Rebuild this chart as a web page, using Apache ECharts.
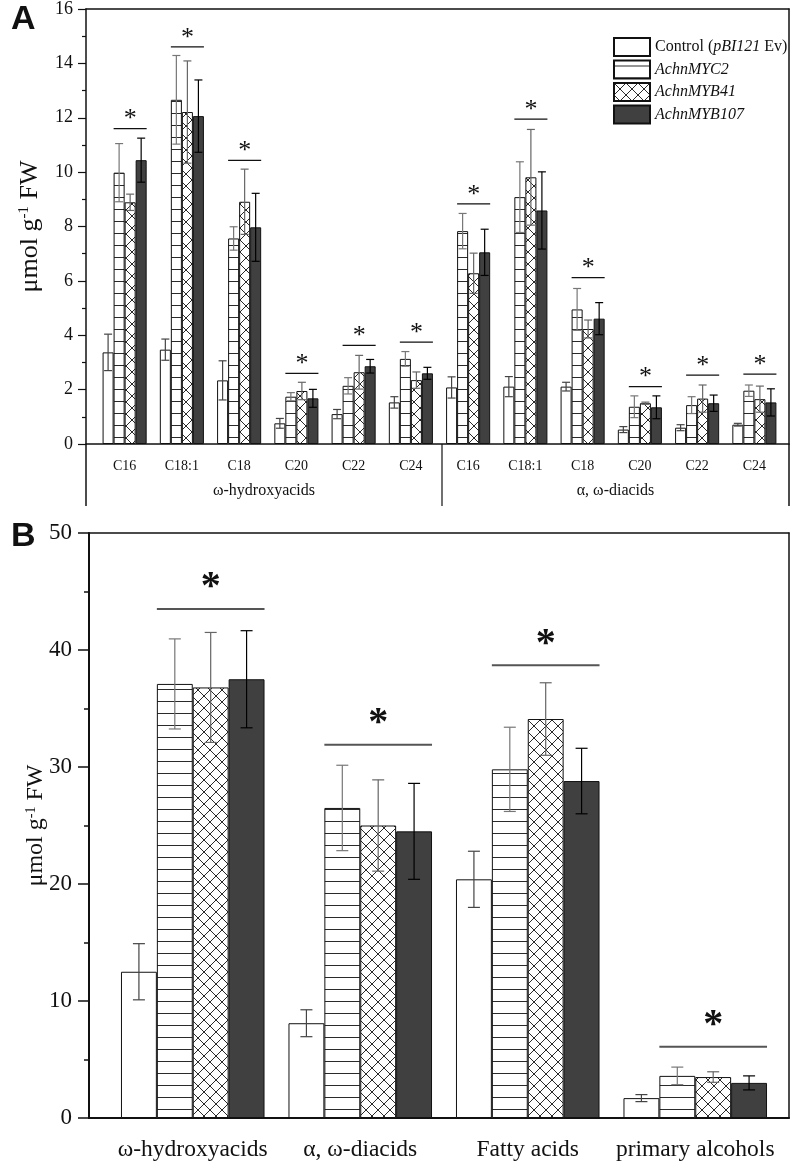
<!DOCTYPE html>
<html><head><meta charset="utf-8">
<script src="https://cdn.jsdelivr.net/npm/echarts@6/dist/echarts.min.js"></script>
<style>html,body{margin:0;padding:0;background:#fff}#c{width:797px;height:1173px}</style>
</head><body><div id="c"></div>
<script>
// ---------- data ----------
const seriesNames = ['Control (pBI121 Ev)', 'AchnMYC2', 'AchnMYB41', 'AchnMYB107'];

// Panel A
const aCategories = ['C16','C18:1','C18','C20','C22','C24','C16','C18:1','C18','C20','C22','C24'];
const aGroups = ['ω-hydroxyacids', 'α, ω-diacids'];
const aControl    = [3.37, 3.47, 2.34, 0.76, 1.10, 1.53,  2.08, 2.11, 2.11, 0.53, 0.60, 0.71];
const aControlErr = [0.67, 0.39, 0.72, 0.18, 0.17, 0.21,  0.39, 0.37, 0.16, 0.11, 0.11, 0.05];
const aMYC2       = [9.98, 12.66, 7.56, 1.74, 2.14, 3.13, 7.83, 9.08, 4.95, 1.37, 1.43, 1.96];
const aMYC2Err    = [1.07, 1.63, 0.43, 0.15, 0.30, 0.27,  0.65, 1.30, 0.77, 0.40, 0.31, 0.21];
const aMYB41      = [8.89, 12.21, 8.91, 1.95, 2.64, 2.35, 6.28, 9.81, 4.23, 1.50, 1.67, 1.65];
const aMYB41Err   = [0.30, 1.88, 1.20, 0.32, 0.62, 0.30,  0.74, 1.76, 0.33, 0.04, 0.50, 0.48];
const aMYB107     = [10.44, 12.06, 7.97, 1.68, 2.86, 2.60, 7.05, 8.59, 4.61, 1.35, 1.50, 1.53];
const aMYB107Err  = [0.81, 1.33, 1.25, 0.33, 0.25, 0.22,  0.85, 1.42, 0.59, 0.42, 0.30, 0.50];
const aSigLine    = [11.6, 14.61, 10.43, 2.6, 3.63, 3.75, 8.83, 11.95, 6.12, 2.11, 2.53, 2.57];
const aYMin = 0, aYMax = 16, aYStep = 2;

// Panel B
const bCategories = ['ω-hydroxyacids', 'α, ω-diacids', 'Fatty acids', 'primary alcohols'];
const bControl    = [12.5, 8.1, 20.4, 1.7];
const bControlErr = [2.4, 1.15, 2.4, 0.3];
const bMYC2       = [37.1, 26.5, 29.8, 3.6];
const bMYC2Err    = [3.85, 3.65, 3.6, 0.75];
const bMYB41      = [36.8, 25.0, 34.1, 3.5];
const bMYB41Err   = [4.7, 3.9, 3.1, 0.45];
const bMYB107     = [37.5, 24.5, 28.8, 3.0];
const bMYB107Err  = [4.15, 4.1, 2.8, 0.6];
const bSigLine    = [43.5, 31.9, 38.7, 6.1];
const bYMin = 0, bYMax = 50, bYStep = 10;

// ---------- styles ----------
const SERIF = '"Liberation Serif", "Times New Roman", serif';
const INK = '#111';

function tile(draw){
  const c = document.createElement('canvas'); c.width = 12; c.height = 12;
  const g = c.getContext('2d'); g.fillStyle = '#fff'; g.fillRect(0,0,12,12);
  g.strokeStyle = '#2a2a2a'; g.lineWidth = 1; draw(g); return c;
}
const horizTile = tile(g => { g.beginPath(); g.moveTo(0, 5.5); g.lineTo(12, 5.5); g.stroke(); });
const crossTile = tile(g => { g.beginPath(); g.moveTo(-1,-1); g.lineTo(13,13); g.moveTo(13,-1); g.lineTo(-1,13); g.stroke(); });
const fills = ['#ffffff', {image: horizTile, repeat: 'repeat'}, {image: crossTile, repeat: 'repeat'}, '#404040'];
const errColors = ['#444', '#777', '#666', '#000'];

const aGap = 0.23, bGap = 0.143;

function errRender(gi, gapFrac, capHalf, color){
  return function(params, api){
    const ci = api.value(0), v = api.value(1), e = api.value(2);
    const c = api.coord([ci, v]); const band = api.size([1, 0])[0];
    const bw = band * (1 - gapFrac) / 4; const x = c[0] + (gi - 1.5) * bw;
    const yt = api.coord([ci, v + e])[1], yb = api.coord([ci, v - e])[1];
    const st = {stroke: color, lineWidth: 1.2};
    return {type: 'group', children: [
      {type: 'line', shape: {x1: x, y1: yt, x2: x, y2: yb}, style: st},
      {type: 'line', shape: {x1: x - capHalf, y1: yt, x2: x + capHalf, y2: yt}, style: st},
      {type: 'line', shape: {x1: x - capHalf, y1: yb, x2: x + capHalf, y2: yb}, style: st}
    ]};
  };
}
function sigRender(gapFrac, starGap, fs, bold, lineColor, lineW){
  return function(params, api){
    const ci = api.value(0), v = api.value(1);
    const c = api.coord([ci, v]); const band = api.size([1, 0])[0];
    const bw = band * (1 - gapFrac) / 4;
    return {type: 'group', children: [
      {type: 'line', shape: {x1: c[0] - bw, y1: c[1], x2: c[0] + 2 * bw, y2: c[1]}, style: {stroke: lineColor, lineWidth: lineW}},
      {type: 'text', style: {text: '*', x: c[0] + 0.5 * bw, y: c[1] - starGap + 0.15 * fs,
        font: (bold ? 'bold ' : '') + fs + 'px ' + SERIF, align: 'center', verticalAlign: 'middle', fill: INK}}
    ]};
  };
}

// ---------- layout ----------
const A_TOP = 9, A_H = 435, A_FRAME_L = 86, A_FRAME_R = 789, A_DATA_L = 96, A_DATA_R = 783;
const B_TOP = 533, B_H = 585, B_FRAME_L = 89, B_FRAME_R = 789, B_DATA_L = 109, B_DATA_R = 779;
const A_BOT = A_TOP + A_H;

const frameX = (gi, pos) => ({gridIndex: gi, type: 'value', min: 0, max: 1, position: pos,
  axisLine: {show: true, onZero: false, lineStyle: {color: INK, width: 1.5}},
  axisTick: {show: false}, axisLabel: {show: false}, splitLine: {show: false}});
const frameYRight = (gi, mn, mx) => ({gridIndex: gi, type: 'value', min: mn, max: mx, position: 'right',
  axisLine: {show: true, onZero: false, lineStyle: {color: INK, width: 1.5}},
  axisTick: {show: false}, axisLabel: {show: false}, splitLine: {show: false}});

const yName = (fs, sfs) => ({
  name: '{a|μmol g}{s|-1}{a| FW}', nameLocation: 'middle', nameRotate: 90, nameMoveOverlap: false,
  nameTextStyle: {rich: {a: {fontSize: fs, fontFamily: SERIF, color: INK},
                         s: {fontSize: sfs, fontFamily: SERIF, color: INK, verticalAlign: 'top'}}}
});

const option = {
  animation: false,
  backgroundColor: '#fff',
  grid: [
    {left: A_DATA_L, width: A_DATA_R - A_DATA_L, top: A_TOP, height: A_H},
    {left: A_FRAME_L, width: A_FRAME_R - A_FRAME_L, top: A_TOP, height: A_H},
    {left: B_DATA_L, width: B_DATA_R - B_DATA_L, top: B_TOP, height: B_H},
    {left: B_FRAME_L, width: B_FRAME_R - B_FRAME_L, top: B_TOP, height: B_H}
  ],
  legend: {
    data: seriesNames, left: 608, top: 32, orient: 'vertical', icon: 'rect',
    itemWidth: 36, itemHeight: 18, itemGap: 2.5, selectedMode: false,
    textStyle: {fontFamily: SERIF, fontSize: 16, color: INK,
      rich: {n: {fontFamily: SERIF, fontSize: 16, color: INK},
             i: {fontFamily: SERIF, fontSize: 16, color: INK, fontStyle: 'italic'}}},
    formatter: function(name){
      if (name.indexOf('Control') === 0) return '{n|Control (}{i|pBI121}{n| Ev)}';
      return '{i|' + name + '}';
    }
  },
  xAxis: [
    {gridIndex: 0, type: 'category', data: aCategories,
      axisLine: {show: false}, axisTick: {alignWithLabel: true, length: 6, lineStyle: {color: INK}},
      axisLabel: {interval: 0, margin: 15, fontSize: 14, fontFamily: SERIF, color: INK}, splitLine: {show: false}},
    frameX(1, 'bottom'), frameX(1, 'top'),
    {gridIndex: 2, type: 'category', data: bCategories,
      axisLine: {show: false}, axisTick: {alignWithLabel: true, length: 11, lineStyle: {color: INK, width: 1.5}},
      axisLabel: {interval: 0, margin: 20, fontSize: 23.5, fontFamily: SERIF, color: INK}, splitLine: {show: false}},
    Object.assign(frameX(3, 'bottom'), {axisLine: {show: true, onZero: false, lineStyle: {color: INK, width: 2}}}),
    frameX(3, 'top')
  ],
  yAxis: [
    {gridIndex: 0, type: 'value', min: aYMin, max: aYMax, show: false},
    Object.assign({gridIndex: 1, type: 'value', min: aYMin, max: aYMax, interval: aYStep,
      axisLine: {show: true, onZero: false, lineStyle: {color: INK, width: 1.5}},
      axisTick: {show: true, length: 8, lineStyle: {color: INK, width: 1.2}},
      minorTick: {show: true, splitNumber: 2, length: 4, lineStyle: {color: INK, width: 1.2}},
      axisLabel: {margin: 13, fontSize: 18, fontFamily: SERIF, color: INK},
      splitLine: {show: false}, nameGap: 43}, yName(26, 15)),
    frameYRight(1, aYMin, aYMax),
    {gridIndex: 2, type: 'value', min: bYMin, max: bYMax, show: false},
    Object.assign({gridIndex: 3, type: 'value', min: bYMin, max: bYMax, interval: bYStep,
      axisLine: {show: true, onZero: false, lineStyle: {color: INK, width: 2}},
      axisTick: {show: true, length: 11, lineStyle: {color: INK, width: 1.5}},
      minorTick: {show: true, splitNumber: 2, length: 5, lineStyle: {color: INK, width: 1.5}},
      axisLabel: {margin: 17, fontSize: 23, fontFamily: SERIF, color: INK},
      splitLine: {show: false}, nameGap: 41}, yName(24, 14)),
    frameYRight(3, bYMin, bYMax)
  ],
  series: [],
  graphic: [
    {type: 'text', left: 11, top: 3, style: {text: 'A', font: 'bold 34px "Liberation Sans", Arial, sans-serif', fill: INK}},
    {type: 'text', left: 11, top: 520, style: {text: 'B', font: 'bold 34px "Liberation Sans", Arial, sans-serif', fill: INK}},
    {type: 'line', shape: {x1: A_FRAME_L, y1: A_BOT, x2: A_FRAME_L, y2: A_BOT + 62}, style: {stroke: INK, lineWidth: 1.5}},
    {type: 'line', shape: {x1: 442, y1: A_BOT, x2: 442, y2: A_BOT + 62}, style: {stroke: INK, lineWidth: 1.2}},
    {type: 'line', shape: {x1: A_FRAME_R, y1: A_BOT, x2: A_FRAME_R, y2: A_BOT + 62}, style: {stroke: INK, lineWidth: 1.5}},
    {type: 'text', x: (A_FRAME_L + 442) / 2, y: A_BOT + 47, style: {text: aGroups[0], font: '16px ' + SERIF, fill: INK, align: 'center', verticalAlign: 'middle'}},
    {type: 'text', x: (442 + A_FRAME_R) / 2, y: A_BOT + 47, style: {text: aGroups[1], font: '16px ' + SERIF, fill: INK, align: 'center', verticalAlign: 'middle'}}
  ]
};

const aVals = [aControl, aMYC2, aMYB41, aMYB107];
const aErrs = [aControlErr, aMYC2Err, aMYB41Err, aMYB107Err];
const bVals = [bControl, bMYC2, bMYB41, bMYB107];
const bErrs = [bControlErr, bMYC2Err, bMYB41Err, bMYB107Err];

function addPanel(xi, yi, vals, errs, gap, capHalf){
  vals.forEach((arr, gi) => {
    option.series.push({type: 'bar', name: seriesNames[gi], xAxisIndex: xi, yAxisIndex: yi, data: arr,
      barGap: '0%', barCategoryGap: (gap * 100) + '%', z: 2,
      itemStyle: {color: fills[gi], borderColor: INK, borderWidth: 1}, emphasis: {disabled: true}});
  });
  vals.forEach((arr, gi) => {
    option.series.push({type: 'custom', name: 'err' + xi + '_' + gi, xAxisIndex: xi, yAxisIndex: yi, z: 5, clip: false,
      renderItem: errRender(gi, gap, capHalf, errColors[gi]),
      data: arr.map((v, i) => [i, v, errs[gi][i]])});
  });
}
addPanel(0, 0, aVals, aErrs, aGap, 4);
addPanel(3, 3, bVals, bErrs, bGap, 6);
option.series.push({type: 'custom', name: 'sigA', xAxisIndex: 0, yAxisIndex: 0, z: 6, clip: false,
  renderItem: sigRender(aGap, 13, 26, false, INK, 1.2), data: aSigLine.map((v, i) => [i, v])});
option.series.push({type: 'custom', name: 'sigB', xAxisIndex: 3, yAxisIndex: 3, z: 6, clip: false,
  renderItem: sigRender(bGap, 27, 40, true, '#555', 2), data: bSigLine.map((v, i) => [i, v])});

const chart = echarts.init(document.getElementById('c'), null, {renderer: 'canvas'});
chart.setOption(option);
</script></body></html>
